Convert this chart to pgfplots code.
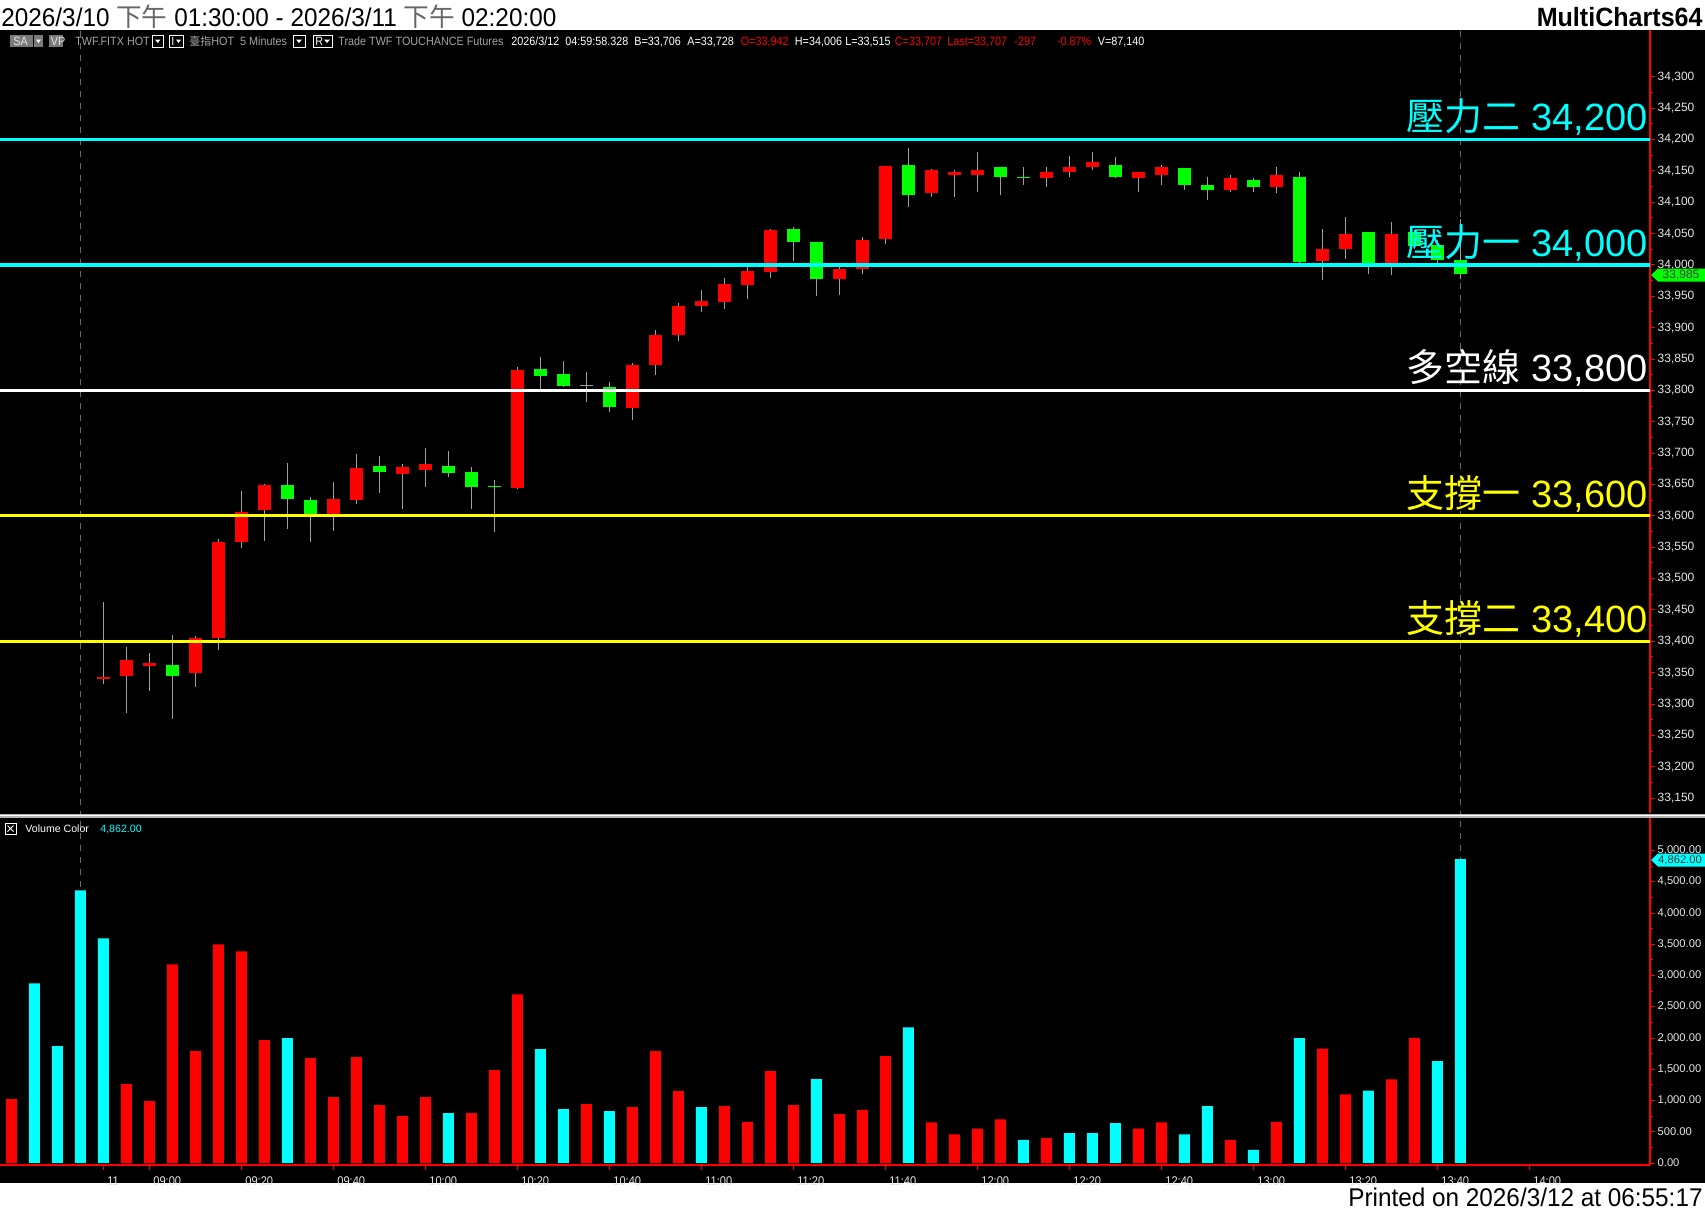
\documentclass[border=0pt]{standalone}
\usepackage{pgfplots}
\pgfplotsset{compat=1.18}
\usepackage{pgfplotstable}
\usepackage{fontspec}
\setmainfont{Liberation Sans}
\newfontfamily\cjk{Noto Sans CJK TC}
\newfontfamily\ttl[FakeStretch=0.95]{Liberation Sans}
\newfontfamily\info[FakeStretch=0.9]{Liberation Sans}
\newfontfamily\narrow[FakeStretch=0.88]{Liberation Sans}

\definecolor{cRed}{HTML}{FF0000}
\definecolor{cGreen}{HTML}{00FF00}
\definecolor{cCyan}{HTML}{00FFFF}
\definecolor{cYellow}{HTML}{FFFF00}
\definecolor{cWick}{HTML}{A0A0A0}
\definecolor{cAxis}{HTML}{FF0000}
\definecolor{cTxt}{HTML}{E6E6E6}
\definecolor{cGrayTxt}{HTML}{A4A4A4}
\definecolor{cDash}{HTML}{6A6A6A}
\definecolor{cBox}{HTML}{7A7A7A}
\definecolor{cSep}{HTML}{B4B4B4}

\pgfplotsset{
  candle/.style={only marks, mark=*, mark size=0pt, mark options={draw=none, fill=none},
    error bars/.cd, y dir=plus, y explicit, error mark=none,
    error bar style={draw=#1, line width=6.5pt}},
  wick/.style={only marks, mark=*, mark size=0pt, mark options={draw=none, fill=none},
    error bars/.cd, y dir=plus, y explicit, error mark=none,
    error bar style={draw=cWick, line width=0.6pt}},
}

% candle wicks: index, low, high
\pgfplotstableread{
i l h
0 33332 33463
1 33286 33391
2 33320 33381
3 33276 33410
4 33327 33408
5 33386 33563
6 33549 33640
7 33560 33651
8 33579 33684
9 33558 33630
10 33576 33654
11 33619 33698
12 33636 33695
13 33611 33683
14 33646 33708
15 33662 33703
16 33611 33678
17 33574 33657
18 33643 33837
19 33800 33853
20 33805 33847
21 33781 33829
22 33766 33813
23 33753 33843
24 33824 33897
25 33878 33940
26 33925 33960
27 33930 33980
28 33946 33996
29 33980 34058
30 34007 34061
31 33951 34037
32 33952 33997
33 33985 34045
34 34033 34158
35 34092 34186
36 34108 34153
37 34109 34152
38 34116 34180
39 34111 34156
40 34127 34156
41 34124 34156
42 34141 34173
43 34151 34180
44 34138 34172
45 34116 34149
46 34128 34159
47 34120 34154
48 34103 34140
49 34116 34144
50 34117 34138
51 34114 34156
52 34002 34148
53 33976 34058
54 34010 34076
55 33986 34053
56 33984 34069
57 34025 34056
58 34000 34040
59 33978 34074
}\wicks

% rising candles (open = b, close = t)
\pgfplotstableread{
i b t
0 33340 33343
1 33345 33370
2 33361 33366
4 33350 33405
5 33405 33558
6 33558 33606
7 33609 33649
10 33601 33627
11 33625 33676
13 33667 33678
14 33673 33683
18 33645 33832
23 33772 33840
24 33840 33888
25 33888 33934
26 33934 33942
27 33941 33970
28 33968 33991
29 33988 34056
32 33977 33994
33 33993 34039
34 34041 34157
36 34114 34152
37 34144 34148
38 34143 34151
41 34138 34149
42 34148 34156
43 34156 34164
45 34138 34148
46 34143 34156
49 34120 34138
51 34125 34144
53 34007 34026
54 34026 34050
56 34002 34050
}\upb

% falling candles (close = b, open = t)
\pgfplotstableread{
i b t
3 33345 33362
8 33627 33649
9 33603 33625
12 33670 33679
15 33668 33679
16 33646 33670
17 33646 33648
19 33823 33834
20 33807 33826
22 33773 33805
30 34036 34058
31 33977 34037
35 34112 34159
39 34140 34156
40 34138 34141
44 34140 34160
47 34128 34154
48 34120 34128
50 34125 34135
52 34005 34141
55 34002 34052
57 34031 34053
58 34008 34032
59 33985 34008
}\dnb

\pgfplotstableread{
i b t
21 33807.2 33808.8
}\doji

% volume, red bars
\pgfplotstableread{
i v
-4 1022
1 1262
2 990
3 3179
4 1789
5 3499
6 3387
7 1965
9 1677
10 1054
11 1693
12 927
13 751
14 1054
16 799
17 1486
18 2700
21 943
23 895
24 1789
25 1150
27 911
28 655
29 1470
30 927
32 783
33 850
34 1710
36 650
37 460
38 550
39 700
41 400
45 550
46 650
49 370
51 660
53 1830
54 1100
56 1340
57 2000
}\volr

% volume, cyan bars
\pgfplotstableread{
i v
-3 2876
-2 1869
-1 4361
0 3594
8 1997
15 799
19 1821
20 863
22 831
26 895
31 1342
35 2170
40 370
42 480
43 480
44 640
47 460
48 910
50 210
52 2000
55 1160
58 1630
59 4862
}\volc

\begin{document}
\begin{tikzpicture}
\begin{scope}[x=0.5pt,y=-0.5pt]
\fill[white] (0,0) rectangle (1705,1211);
\fill[black] (0,30) rectangle (1705,1183);
\end{scope}

% ---------------- price panel ----------------
\begin{axis}[
  at={(0pt,-15pt)}, anchor=north west,
  scale only axis, width=825pt, height=391.5pt,
  xmin=-4.4913, xmax=67.248,
  ymin=33126.2, ymax=34374.6,
  axis x line=none, axis y line*=right,
  axis line style={draw=cAxis, line width=0.6pt},
  ytick={33150,33200,...,34300},
  minor y tick num=1,
  tick align=outside,
  major tick length=2.5pt, minor tick length=1.5pt,
  tick style={draw=cAxis, line width=0.5pt},
  yticklabel style={font=\fontsize{6}{7}\selectfont, text=cTxt, xshift=-2.2pt,
    /pgf/number format/1000 sep={,}, /pgf/number format/assume math mode=true},
  scaled y ticks=false,
  clip=true,
]
\addplot[cDash, line width=0.5pt, dash pattern=on 3pt off 3pt] coordinates {(-1,33100) (-1,34400)};
\addplot[cDash, line width=0.5pt, dash pattern=on 3pt off 3pt] coordinates {(59,33100) (59,34400)};
% wicks
\addplot[wick] table[x=i, y=l, y error plus expr=\thisrow{h}-\thisrow{l}] {\wicks};
% bodies
\addplot[candle=cRed] table[x=i, y=b, y error plus expr=\thisrow{t}-\thisrow{b}] {\upb};
\addplot[candle=cGreen] table[x=i, y=b, y error plus expr=\thisrow{t}-\thisrow{b}] {\dnb};
\addplot[candle=cWick] table[x=i, y=b, y error plus expr=\thisrow{t}-\thisrow{b}] {\doji};
% level lines
\addplot[cCyan, line width=1.6pt] coordinates {(-6,34200) (70,34200)};
\addplot[cCyan, line width=1.6pt] coordinates {(-6,34000) (70,34000)};
\addplot[white, line width=1.6pt] coordinates {(-6,33800) (70,33800)};
\addplot[cYellow, line width=1.6pt] coordinates {(-6,33600) (70,33600)};
\addplot[cYellow, line width=1.6pt] coordinates {(-6,33400) (70,33400)};
% level labels
\node[anchor=base east, inner sep=0pt, text=cCyan, font=\fontsize{19}{22}\selectfont]
  at ([yshift=4.3pt]axis cs:67.16,34200) {{\cjk 壓力二} 34,200};
\node[anchor=base east, inner sep=0pt, text=cCyan, font=\fontsize{19}{22}\selectfont]
  at ([yshift=4.3pt]axis cs:67.16,34000) {{\cjk 壓力一} 34,000};
\node[anchor=base east, inner sep=0pt, text=white, font=\fontsize{19}{22}\selectfont]
  at ([yshift=4.3pt]axis cs:67.16,33800) {{\cjk 多空線} 33,800};
\node[anchor=base east, inner sep=0pt, text=cYellow, font=\fontsize{19}{22}\selectfont]
  at ([yshift=4.3pt]axis cs:67.16,33600) {{\cjk 支撐一} 33,600};
\node[anchor=base east, inner sep=0pt, text=cYellow, font=\fontsize{19}{22}\selectfont]
  at ([yshift=4.3pt]axis cs:67.16,33400) {{\cjk 支撐二} 33,400};
\end{axis}

% ---------------- volume panel ----------------
\begin{axis}[
  at={(0pt,-582.5pt)}, anchor=south west,
  scale only axis, width=825pt, height=173.5pt,
  xmin=-4.4913, xmax=67.248, ymin=-32, ymax=5520,
  axis x line*=bottom, axis y line*=right,
  axis line style={draw=cAxis, line width=0.6pt},
  xtick={0,2,6,10,14,18,22,26,30,34,38,42,46,50,54,58,62},
  xticklabels={11,09:00,09:20,09:40,10:00,10:20,10:40,11:00,11:20,11:40,12:00,12:20,12:40,13:00,13:20,13:40,14:00},
  ytick={0,500,...,5000},
  minor y tick num=1,
  tick align=outside,
  major tick length=2.5pt, minor tick length=1.5pt,
  tick style={draw=cAxis, line width=0.5pt},
  xticklabel style={font=\narrow\fontsize{6.3}{7}\selectfont, text=cTxt, anchor=north west, xshift=-1.5pt},
  yticklabel style={font=\fontsize{5.6}{7}\selectfont, text=cTxt, xshift=-2.2pt,
    /pgf/number format/fixed, /pgf/number format/fixed zerofill,
    /pgf/number format/precision=2, /pgf/number format/1000 sep={,},
    /pgf/number format/assume math mode=true},
  scaled y ticks=false,
  clip=true,
]
\addplot[cDash, line width=0.5pt, dash pattern=on 3pt off 3pt] coordinates {(-1,0) (-1,6000)};
\addplot[cDash, line width=0.5pt, dash pattern=on 3pt off 3pt] coordinates {(59,0) (59,6000)};
\addplot[ybar, bar width=5.5pt, bar shift=0pt, fill=cRed, draw=none] table[x=i, y=v] {\volr};
\addplot[ybar, bar width=5.5pt, bar shift=0pt, fill=cCyan, draw=none] table[x=i, y=v] {\volc};
\end{axis}

% ---------------- decorations ----------------
\begin{scope}[x=0.5pt,y=-0.5pt]
% panel separator
\draw[line width=2pt, color=cSep] (0,815.5) -- (1705,815.5);
\draw[line width=0.5pt, color=white] (0,815.5) -- (1705,815.5);
% title and brand
\node[anchor=base west, inner sep=0pt, font=\ttl\fontsize{12.8}{15}\selectfont] at (1,26)
  {2026/3/10 {\cjk\color{black!60}下午} 01:30:00 - 2026/3/11 {\cjk\color{black!60}下午} 02:20:00};
\node[anchor=base east, inner sep=0pt, font=\ttl\bfseries\fontsize{13.2}{15}\selectfont] at (1703,26) {MultiCharts64};
\node[anchor=base east, inner sep=0pt, font=\ttl\fontsize{12.8}{15}\selectfont] at (1703,1206)
  {Printed on 2026/3/12 at 06:55:17};
% info bar boxes
\fill[cBox] (10,35) rectangle (33,47);
\fill[cBox] (34,35) rectangle (43,47);
\fill[white] (36,39.5) -- (41,39.5) -- (38.5,43) -- cycle;
\node[anchor=base west, inner sep=0pt, text=cTxt, font=\info\fontsize{6}{7}\selectfont] at (13,45.5) {SA};
\fill[cBox] (49,35) rectangle (63,47);
\node[anchor=base west, inner sep=0pt, text=cTxt, font=\info\fontsize{6}{7}\selectfont] at (50.5,45.5) {VP};
\draw[white, line width=0.5pt] (152,35) rectangle (163.5,47);
\fill[white] (155,39.5) -- (160.5,39.5) -- (157.75,43) -- cycle;
\draw[white, line width=0.5pt] (169,35) rectangle (183.5,47);
\node[anchor=base west, inner sep=0pt, text=white, font=\info\fontsize{6}{7}\selectfont] at (171,45.5) {I};
\fill[white] (176,39.5) -- (181,39.5) -- (178.5,43) -- cycle;
\draw[white, line width=0.5pt] (293,35) rectangle (305,47);
\fill[white] (296,39.5) -- (302,39.5) -- (299,43) -- cycle;
\draw[white, line width=0.5pt] (313,35) rectangle (332,47);
\node[anchor=base west, inner sep=0pt, text=white, font=\info\fontsize{6}{7}\selectfont] at (315,45.5) {R};
\fill[white] (324,39.5) -- (330,39.5) -- (327,43) -- cycle;
% info bar texts
\begin{scope}[every node/.style={anchor=base west, inner sep=0pt, font=\info\fontsize{6}{7}\selectfont}]
\node[text=cGrayTxt] at (75,45.5) {TWF.FITX HOT};
\node[text=cGrayTxt] at (189,45.5) {{\cjk\fontsize{5.5}{7}\selectfont 臺指}HOT\ \ 5 Minutes};
\node[text=cGrayTxt] at (338,45.5) {Trade TWF TOUCHANCE Futures};
\node[text=white] at (511,45.5) {2026/3/12\ \ 04:59:58.328};
\node[text=white] at (634,45.5) {B=33,706};
\node[text=white] at (687,45.5) {A=33,728};
\node[text=cRed] at (740.5,45.5) {O=33,942};
\node[text=white] at (794.5,45.5) {H=34,006};
\node[text=white] at (845,45.5) {L=33,515};
\node[text=cRed] at (894.5,45.5) {C=33,707};
\node[text=cRed] at (947,45.5) {Last=33,707};
\node[text=cRed] at (1014,45.5) {-297};
\node[text=cRed] at (1056.5,45.5) {-0.87\%};
\node[text=white] at (1097.5,45.5) {V=87,140};
\end{scope}
% volume indicator label
\draw[white, line width=0.5pt] (5,823) rectangle (16,834);
\draw[white, line width=0.4pt] (7.5,825.5) -- (13.5,831.5) (13.5,825.5) -- (7.5,831.5);
\node[anchor=base west, inner sep=0pt, text=white, font=\fontsize{5.3}{6}\selectfont] at (25,832) {Volume Color};
\node[anchor=base west, inner sep=0pt, text=cCyan, font=\fontsize{5.3}{6}\selectfont] at (100,832) {4,862.00};
% last-value tags on the scales
\fill[cGreen] (1651,275) -- (1658,268.5) -- (1705,268.5) -- (1705,281.5) -- (1658,281.5) -- cycle;
\node[inner sep=0pt, text=black!75, font=\fontsize{6}{7}\selectfont] at (1681,275) {33,985};
\fill[cCyan] (1651,860) -- (1658,853.5) -- (1705,853.5) -- (1705,866.5) -- (1658,866.5) -- cycle;
\node[inner sep=0pt, text=black!80, font=\fontsize{5.6}{7}\selectfont] at (1680,860) {4,862.00};
\end{scope}
\pgfresetboundingbox
\path[use as bounding box] (0pt,0pt) rectangle (852.5pt,-605.5pt);
\end{tikzpicture}
\end{document}
